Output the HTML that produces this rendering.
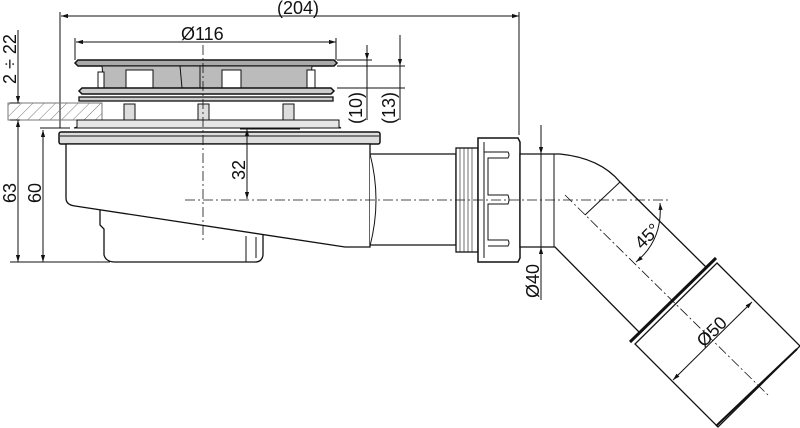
<!DOCTYPE html>
<html><head><meta charset="utf-8"><style>body{margin:0;background:#fff}svg{display:block}text{font-family:"Liberation Sans",sans-serif;fill:#111}</style></head><body>
<svg width="800" height="428" viewBox="0 0 800 428" xmlns="http://www.w3.org/2000/svg">
<defs>
<marker id="a" viewBox="0 0 10 10" refX="10" refY="5" markerWidth="7" markerHeight="7" orient="auto-start-reverse"><path d="M0,2L10,5L0,8z" fill="#111"/></marker>
<pattern id="h" width="8" height="8" patternUnits="userSpaceOnUse" patternTransform="rotate(45)"><line x1="0" y1="0" x2="0" y2="8" stroke="#777" stroke-width="1"/></pattern>
</defs>
<g stroke="#111" stroke-width="1" fill="none">
<line x1="61" y1="16" x2="519" y2="16" marker-start="url(#a)" marker-end="url(#a)"/>
<line x1="60" y1="12" x2="60" y2="128"/><line x1="519" y1="12" x2="519" y2="135"/>
<line x1="76" y1="42" x2="336" y2="42" marker-start="url(#a)" marker-end="url(#a)"/>
<line x1="75" y1="38" x2="75" y2="60"/><line x1="336" y1="38" x2="336" y2="60"/>
<path d="M78,60 H334 L337,63 L334,66 H78 L75,63z" fill="#aaa" stroke-width="1.5"/>
<path d="M102,66 H312 L310,88 H104z" fill="#bbb"/>
<rect x="126" y="70" width="27" height="18" fill="#fff"/>
<rect x="222" y="70" width="19" height="18" fill="#fff"/>
<rect x="98" y="72" width="6" height="16" fill="#fff"/><rect x="307" y="70" width="8" height="18" fill="#fff"/>
<line x1="180" y1="66" x2="182" y2="88"/><line x1="200" y1="66" x2="200" y2="88"/>
<path d="M82,88 H331 L334,91 L331,94 H82 L79,91z" fill="#ccc" stroke-width="1.5"/>
<rect x="79" y="97" width="254" height="4" fill="#ccc" stroke-width="1.3"/>
<rect x="8" y="103" width="94" height="17" fill="url(#h)" stroke="#777"/>
<rect x="124" y="104" width="11" height="16" fill="#ddd"/><rect x="198" y="104" width="11" height="16" fill="#ddd"/><rect x="283" y="104" width="11" height="16" fill="#ddd"/>
<path d="M77,120 H339 V127 L341,128 H74 L77,127z" fill="#e6e6e6"/>
<rect x="59" y="132" width="321" height="12" rx="2" fill="#ddd" stroke-width="1.5"/>
<line x1="60" y1="136" x2="379" y2="136"/>
<path d="M100,209 V225 L104,229 V255 Q106,262 115,262 H255 Q262,262 263,255 V233" fill="#fff" stroke-width="1.3"/>
<path d="M66,144 V198 Q66,205 75,206 L345,247 H370 V144z" fill="#fff" stroke-width="1.3"/>
<path d="M246,236 V262 M256,237 V258"/>
<path d="M370,154 H456 V245 H370" fill="#fff" stroke-width="1.3"/>
<path d="M370,154 Q382,200 370,246"/>
<rect x="456" y="148" width="22" height="104" fill="#fff" stroke-width="1.3"/>
<path d="M460,148V252M464,148V252M468,148V252M472,148V252" stroke-width="0.6"/>
<path d="M478,138 H518 L520,142 V258 L518,262 H478z" fill="#fff" stroke-width="1.5"/>
<path d="M484,142 V258 M484,152 H508 Q510,155 508,158 H488 V195 H508 Q510,200 508,204 H488 V240 H508 Q510,243 508,246 H488" fill="none"/>
<path d="M520,154 H560 Q600,158 620,182 L706,267 L640,333 L555,247 H520z" fill="#fff" stroke-width="1.3"/>
<line x1="554" y1="154" x2="554" y2="247"/>
<line x1="620" y1="182" x2="585" y2="215"/>
<path d="M716,258 L630,342" stroke-width="3"/>
<path d="M717,263 L800,346 L718,427 L635,344z" fill="#fff" stroke-width="1.3"/>
<line x1="797" y1="349" x2="716" y2="426" stroke-width="2"/>
<g stroke-dasharray="10,3,2,3" stroke-width="0.8">
<line x1="185" y1="200" x2="670" y2="200"/><line x1="203" y1="45" x2="203" y2="240"/><line x1="565" y1="195" x2="768" y2="395"/>
</g>
<line x1="541" y1="125" x2="541" y2="300"/>
<line x1="541" y1="140" x2="541" y2="154" marker-end="url(#a)"/><line x1="541" y1="262" x2="541" y2="247" marker-end="url(#a)"/>
<line x1="673" y1="380" x2="752" y2="302" marker-start="url(#a)" marker-end="url(#a)"/>
<path d="M636,262 Q663,240 660,203" marker-start="url(#a)" marker-end="url(#a)"/>
<line x1="18" y1="30" x2="18" y2="103" /><line x1="18" y1="92" x2="18" y2="103" marker-end="url(#a)"/>
<line x1="18" y1="120" x2="18" y2="262" marker-start="url(#a)" marker-end="url(#a)"/>
<line x1="43" y1="130" x2="43" y2="262" marker-start="url(#a)" marker-end="url(#a)"/>
<line x1="10" y1="262" x2="110" y2="262"/><line x1="40" y1="128" x2="70" y2="128"/>
<line x1="10" y1="103" x2="20" y2="103"/><line x1="10" y1="120" x2="20" y2="120"/>
<line x1="247" y1="129" x2="247" y2="199" marker-start="url(#a)" marker-end="url(#a)"/>
<line x1="240" y1="129" x2="300" y2="129"/>
<line x1="367" y1="45" x2="367" y2="120"/><line x1="400" y1="35" x2="400" y2="120"/>
<line x1="337" y1="60" x2="372" y2="60"/><line x1="337" y1="66" x2="405" y2="66"/><line x1="337" y1="88" x2="405" y2="88"/>
<line x1="367" y1="50" x2="367" y2="60" marker-end="url(#a)"/><line x1="400" y1="50" x2="400" y2="66" marker-end="url(#a)"/>
</g>
<g font-size="18">
<text x="277" y="14">(204)</text>
<text x="181" y="40">Ø116</text>
<text transform="translate(16,84) rotate(-90)">2 ÷ 22</text>
<text transform="translate(16,203) rotate(-90)">63</text>
<text transform="translate(41,203) rotate(-90)">60</text>
<text transform="translate(245,180) rotate(-90)">32</text>
<text transform="translate(362,124) rotate(-90)">(10)</text>
<text transform="translate(395,124) rotate(-90)">(13)</text>
<text transform="translate(539,298) rotate(-90)">Ø40</text>
<text transform="translate(704,348) rotate(-45)">Ø50</text>
<text transform="translate(642,250) rotate(-45)">45°</text>
</g>
</svg>
</body></html>
